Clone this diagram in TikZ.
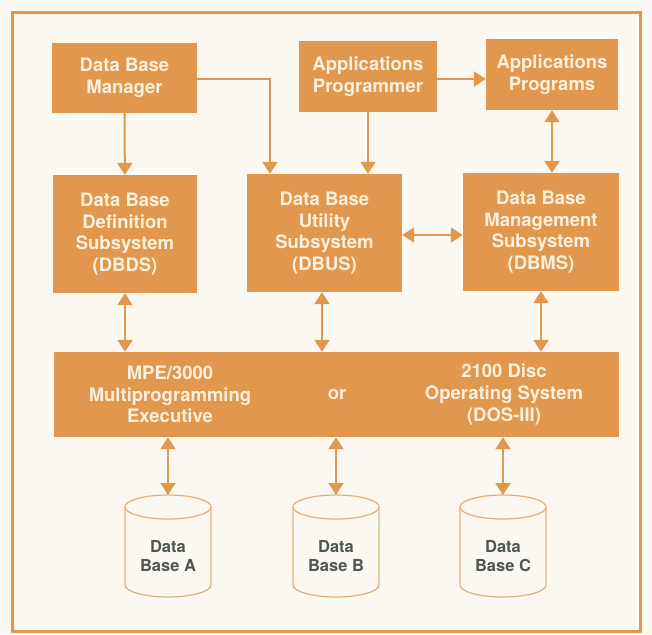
\documentclass[tikz,border=0pt]{standalone}
\usepackage{xcolor}
\usepackage{fontspec}
\setmainfont{TeX Gyre Heros}
\usepackage{tikz}
\usetikzlibrary{shapes,arrows,positioning,calc,arrows.meta}
\definecolor{hporange}{HTML}{E1974D}
\definecolor{hpcream}{HTML}{FCF0DE}
\definecolor{hppaper}{HTML}{FBF8F1}
\definecolor{hpgrey}{HTML}{4E5753}
\definecolor{hptan}{HTML}{DDB27E}

\begin{document}
\begin{tikzpicture}[x=1pt, y=-1pt,
        block/.style={fill=hporange, draw=none, text=hpcream, align=center, inner sep=0pt,
            font=\fontsize{18.5}{21.7}\selectfont\bfseries},
        plain/.style={text=hpcream, align=center, inner sep=0pt,
            font=\fontsize{18.5}{21.7}\selectfont\bfseries},
        store/.style={draw=hptan, line width=1.2pt, fill=hppaper},
        storetext/.style={text=hpgrey, align=center, inner sep=0pt,
            font=\fontsize{16.5}{19.5}\selectfont\bfseries},
        flow/.style={draw=hporange, line width=2pt, -{Triangle[width=15pt,length=12pt]}},
        both/.style={draw=hporange, line width=2pt, {Triangle[width=15pt,length=12pt]}-{Triangle[width=15pt,length=12pt]}}]
    \useasboundingbox (0,0) rectangle (652,634);
    \fill[hppaper] (0,0) rectangle (652,634);
    \draw[hporange, line width=3pt] (12,13) rectangle (640,631);

    % top row
    \node[block, minimum width=145pt, minimum height=70pt] (mgr) at (124.5,78) {Data Base\\Manager};
    \node[block, minimum width=138pt, minimum height=71pt] (progr) at (368,76.5) {Applications\\Programmer};
    \node[block, minimum width=132pt, minimum height=71pt] (apps) at (552,74.5) {Applications\\Programs};

    % subsystems
    \node[block, minimum width=144pt, minimum height=118pt] (dbds) at (125,234) {Data Base\\Definition\\Subsystem\\(DBDS)};
    \node[block, minimum width=155pt, minimum height=118pt] (dbus) at (324.5,233) {Data Base\\Utility\\Subsystem\\(DBUS)};
    \node[block, minimum width=156pt, minimum height=118pt] (dbms) at (541,232) {Data Base\\Management\\Subsystem\\(DBMS)};

    % operating system
    \node[block, minimum width=565pt, minimum height=85pt] (os) at (336.5,394.5) {};
    \node[plain] (mpe) at (170,394.5) {MPE/3000\\Multiprogramming\\Executive};
    \node[plain] (or) at (337,394.5) {or};
    \node[plain] (dos) at (504,394.5) {2100 Disc\\Operating System\\(DOS-III)};

    % data bases
    \foreach \name/\x/\lbl in {dba/168/A, dbb/336/B, dbc/503/C} {
        \filldraw[store] (\x-43,507) -- (\x-43,585) arc[start angle=180, end angle=0, x radius=43, y radius=12] -- (\x+43,507);
        \draw[store] (\x,507) ellipse[x radius=43, y radius=12];
        \coordinate (\name) at (\x,495);
        \node[storetext] (\name text) at (\x,556) {Data\\Base \lbl};
    }

    \coordinate (bend) at (270,79);
    \draw[flow] (mgr) -- (dbds);
    \draw[flow, line width=1.3pt] (mgr.east |- bend) -- (bend) -- (bend |- dbus.north);
    \draw[flow] (progr.south) -- ($(dbus.north)+(43.5,0)$);
    \draw[flow] (progr.east |- 0,79) -- (apps.west |- 0,79);
    \draw[both] (apps.south) -- (apps.south |- dbms.north);
    \draw[both] (dbus.east |- 0,235) -- (dbms.west |- 0,235);
    \draw[both] (dbds.south) -- (dbds.south |- os.north);
    \draw[both] ($(dbus.south)+(-2.5,0)$) -- ($(dbus.south |- os.north)+(-2.5,0)$);
    \draw[both] (dbms.south) -- (dbms.south |- os.north);
    \draw[both] (os.south -| dba) -- (dba);
    \draw[both] (os.south -| dbb) -- (dbb);
    \draw[both] (os.south -| dbc) -- (dbc);
\end{tikzpicture}
\end{document}
